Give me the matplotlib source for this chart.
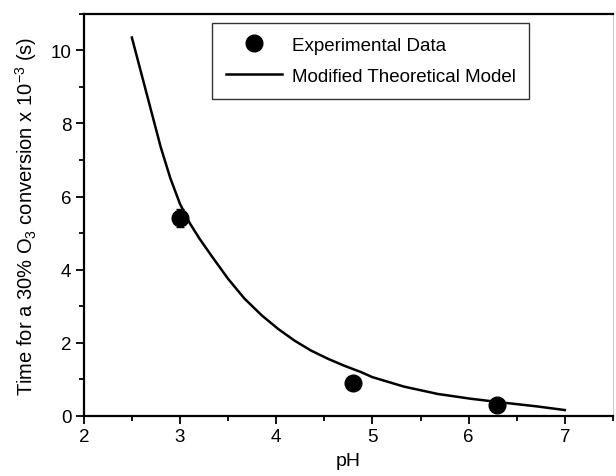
import matplotlib
matplotlib.use("Agg")
import matplotlib.pyplot as plt
from matplotlib.ticker import MultipleLocator
from matplotlib.lines import Line2D

plt.rcParams['font.family'] = ['Liberation Sans', 'DejaVu Sans']
plt.rcParams['mathtext.fontset'] = 'custom'
plt.rcParams['mathtext.rm'] = 'Liberation Sans'
plt.rcParams['mathtext.it'] = 'Liberation Sans:italic'
plt.rcParams['mathtext.default'] = 'regular'

# Experimental data
exp_ph = [3.0, 4.8, 6.3]
exp_time = [5.42, 0.90, 0.31]
exp_err = [0.25, 0.0, 0.0]

# Modified theoretical model curve
model_ph = [2.5, 2.6, 2.7, 2.8, 2.9, 3.0, 3.1, 3.2, 3.33, 3.5, 3.67, 3.85, 4.02, 4.19,
            4.36, 4.54, 4.71, 4.88, 5.0, 5.33, 5.68, 6.02, 6.37, 6.71, 7.0]
model_time = [10.35, 9.35, 8.35, 7.35, 6.5, 5.8, 5.28, 4.86, 4.37, 3.75, 3.21, 2.75, 2.38, 2.06,
              1.79, 1.56, 1.37, 1.20, 1.06, 0.80, 0.60, 0.47, 0.36, 0.26, 0.16]

fig = plt.figure(figsize=(6.16, 4.77), dpi=100)
ax = fig.add_axes([0.136, 0.126, 0.859, 0.843])

ax.plot(model_ph, model_time, color='black', lw=1.8, solid_joinstyle='round')
ax.errorbar(exp_ph, exp_time, yerr=exp_err, fmt='o', color='black', ms=12,
            capsize=3, elinewidth=1, zorder=3)

ax.set_xlim(2, 7.5)
ax.set_ylim(0, 11)
ax.xaxis.set_major_locator(MultipleLocator(1))
ax.xaxis.set_minor_locator(MultipleLocator(0.5))
ax.yaxis.set_major_locator(MultipleLocator(2))
ax.yaxis.set_minor_locator(MultipleLocator(1))
ax.tick_params(which='major', direction='out', length=6, width=1.3, labelsize=13.5, pad=3)
ax.tick_params(which='minor', direction='out', length=3.5, width=1.3)
ax.tick_params(top=False, right=False)

for s in ['left', 'bottom', 'top']:
    ax.spines[s].set_linewidth(1.6)
ax.spines['right'].set_color('#cccccc')
ax.spines['right'].set_linewidth(0.8)

ax.set_xlabel('pH', fontsize=14, labelpad=5)
ax.set_ylabel('Time for a 30% O$_3$ conversion x 10$^{-3}$ (s)', fontsize=14.5, labelpad=8)

h_pts = Line2D([], [], ls='none', marker='o', color='black', ms=12)
h_line = Line2D([], [], color='black', lw=1.8)
leg = ax.legend(handles=[h_pts, h_line], labels=['Experimental Data', 'Modified Theoretical Model'],
                loc='upper left', bbox_to_anchor=(0.242, 0.978), borderaxespad=0,
                fontsize=13.5, frameon=True, fancybox=False, edgecolor='black',
                handlelength=3.0, borderpad=0.75, labelspacing=0.75, handletextpad=0.5)
leg.get_frame().set_linewidth(1.0)

fig.savefig('out.png', dpi=100)
